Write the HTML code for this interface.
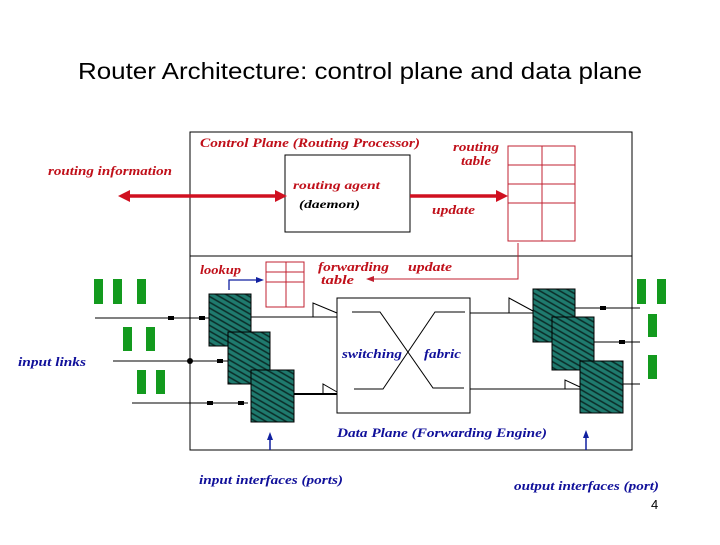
<!DOCTYPE html>
<html><head><style>
body{margin:0;background:#fff;width:720px;height:540px;overflow:hidden}
text{font-family:"Liberation Serif",serif;font-style:italic;font-weight:bold}
</style></head><body>
<svg width="720" height="540" xmlns="http://www.w3.org/2000/svg">
<defs>
<pattern id="h" width="5" height="5" patternUnits="userSpaceOnUse" patternTransform="rotate(30)">
<rect width="5" height="5" fill="#1f7a6e"/><line x1="0" y1="2" x2="5" y2="2" stroke="#0a2a26" stroke-width="1.5"/>
</pattern>
</defs>
<text x="78" y="79" textLength="564" lengthAdjust="spacingAndGlyphs" style="font-family:'Liberation Sans',sans-serif;font-style:normal;font-weight:normal" font-size="23">Router Architecture: control plane and data plane</text>
<rect x="190" y="132" width="442" height="318" fill="none" stroke="#000"/>
<line x1="190" y1="256" x2="632" y2="256" stroke="#000"/>
<g fill="#c0101a" font-size="13">
<text x="200" y="147" textLength="220" lengthAdjust="spacingAndGlyphs">Control Plane (Routing Processor)</text>
<text x="48" y="175" textLength="124" lengthAdjust="spacingAndGlyphs">routing information</text>
<text x="453" y="151" textLength="46" lengthAdjust="spacingAndGlyphs">routing</text><text x="461" y="165" textLength="30" lengthAdjust="spacingAndGlyphs">table</text>
<text x="432" y="214" textLength="43" lengthAdjust="spacingAndGlyphs">update</text>
<text x="200" y="274" textLength="41" lengthAdjust="spacingAndGlyphs">lookup</text>
<text x="318" y="271" textLength="71" lengthAdjust="spacingAndGlyphs">forwarding</text><text x="321" y="284" textLength="33" lengthAdjust="spacingAndGlyphs">table</text>
<text x="408" y="271" textLength="44" lengthAdjust="spacingAndGlyphs">update</text>
</g>
<rect x="285" y="155" width="125" height="77" fill="none" stroke="#000"/>
<g font-size="12"><text x="293" y="189" fill="#c0101a" textLength="87" lengthAdjust="spacingAndGlyphs">routing agent</text><text x="299" y="208" fill="#000" textLength="61" lengthAdjust="spacingAndGlyphs">(daemon)</text></g>
<g stroke="#d01020" stroke-width="3.5">
<line x1="125" y1="196" x2="280" y2="196"/><line x1="410" y1="196" x2="503" y2="196"/></g>
<g fill="#d01020"><polygon points="118,196 130,190 130,202"/><polygon points="287,196 275,190 275,202"/><polygon points="508,196 496,190 496,202"/></g>
<g fill="none" stroke="#c02030">
<rect x="508" y="146" width="67" height="95"/><line x1="542" y1="146" x2="542" y2="241"/>
<line x1="508" y1="165" x2="575" y2="165"/><line x1="508" y1="184" x2="575" y2="184"/><line x1="508" y1="203" x2="575" y2="203"/>
<rect x="266" y="262" width="38" height="45"/><line x1="286" y1="262" x2="286" y2="307"/>
<line x1="266" y1="272" x2="304" y2="272"/><line x1="266" y1="282" x2="304" y2="282"/>
<polyline points="518,243 518,279 372,279"/>
</g>
<polygon points="366,279 374,276 374,282" fill="#c02030"/>
<polyline points="229,290 229,280 258,280" fill="none" stroke="#1020a0" stroke-width="1.3"/>
<polygon points="264,280 256,277 256,283" fill="#1020a0"/>
<rect x="337" y="298" width="133" height="115" fill="#fff" stroke="#000"/>
<g stroke="#000" fill="none">
<polyline points="352,312 380,312 433,388 464,388"/><polyline points="354,389 383,389 435,312 465,312"/>
<line x1="95" y1="318" x2="209" y2="318"/><line x1="113" y1="361" x2="228" y2="361"/><line x1="132" y1="403" x2="248" y2="403"/>
<line x1="251" y1="317" x2="337" y2="317"/><line x1="294" y1="394" x2="337" y2="394" stroke-width="2"/>
<line x1="470" y1="313" x2="533" y2="313"/><line x1="470" y1="389" x2="580" y2="389"/>
<line x1="575" y1="308" x2="640" y2="308"/><line x1="594" y1="342" x2="640" y2="342"/><line x1="623" y1="384" x2="640" y2="384"/>
<polyline points="313,317 313,303 337,313"/><polyline points="323,394 323,384 337,392"/>
<polyline points="509,313 509,298 533,311"/><polyline points="565,389 565,380 580,387"/>
</g>
<g fill="#000"><rect x="168" y="316" width="6" height="4"/><rect x="199" y="316" width="6" height="4"/><circle cx="190" cy="361" r="3"/><rect x="217" y="359" width="6" height="4"/><rect x="207" y="401" width="6" height="4"/><rect x="238" y="401" width="6" height="4"/><rect x="600" y="306" width="6" height="4"/><rect x="619" y="340" width="6" height="4"/></g>
<g stroke="#000" fill="url(#h)">
<rect x="209" y="294" width="42" height="52"/><rect x="228" y="332" width="42" height="52"/><rect x="251" y="370" width="43" height="52"/>
<rect x="533" y="289" width="42" height="53"/><rect x="552" y="317" width="42" height="53"/><rect x="580" y="361" width="43" height="52"/>
</g>
<g fill="#139a1e">
<rect x="94" y="279" width="9" height="25"/><rect x="113" y="279" width="9" height="25"/><rect x="137" y="279" width="9" height="25"/>
<rect x="123" y="327" width="9" height="24"/><rect x="146" y="327" width="9" height="24"/>
<rect x="137" y="370" width="9" height="24"/><rect x="156" y="370" width="9" height="24"/>
<rect x="637" y="279" width="9" height="25"/><rect x="657" y="279" width="9" height="25"/>
<rect x="648" y="314" width="9" height="23"/><rect x="648" y="355" width="9" height="24"/>
</g>
<g fill="#10109a" font-size="13">
<text x="18" y="366" textLength="68" lengthAdjust="spacingAndGlyphs">input links</text>
<text x="342" y="358" textLength="60" lengthAdjust="spacingAndGlyphs">switching</text><text x="424" y="358" textLength="37" lengthAdjust="spacingAndGlyphs">fabric</text>
<text x="337" y="437" textLength="210" lengthAdjust="spacingAndGlyphs">Data Plane (Forwarding Engine)</text>
<text x="199" y="484" textLength="144" lengthAdjust="spacingAndGlyphs">input interfaces (ports)</text>
<text x="514" y="490" textLength="145" lengthAdjust="spacingAndGlyphs">output interfaces (port)</text>
</g>
<g stroke="#1020a0" stroke-width="1.5"><line x1="270" y1="450" x2="270" y2="438"/><line x1="586" y1="450" x2="586" y2="436"/></g>
<g fill="#1020a0"><polygon points="270,432 267,440 273,440"/><polygon points="586,430 583,438 589,438"/></g>
<text x="651" y="509" font-size="13" style="font-family:'Liberation Sans',sans-serif;font-style:normal;font-weight:normal">4</text>
</svg>
</body></html>
